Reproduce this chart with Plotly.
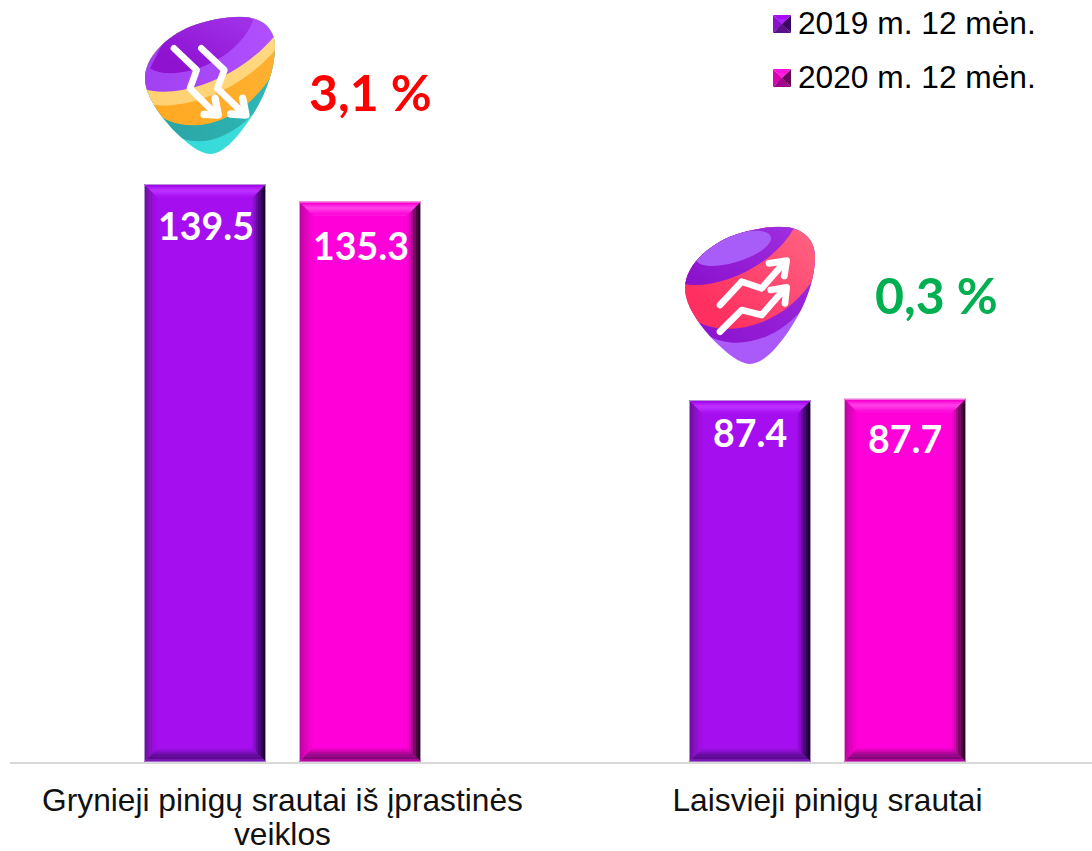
import base64
import plotly.graph_objects as go

categories = ["Grynieji pinigų srautai iš įprastinės veiklos", "Laisvieji pinigų srautai"]
category_first_lines = ["Grynieji pinigų srautai iš įprastinės", "Laisvieji pinigų srautai"]
category_second_line = "veiklos"
series_names = ["2019 m. 12 mėn.", "2020 m. 12 mėn."]
values_2019 = [139.5, 87.4]
values_2020 = [135.3, 87.7]
changes = ["3,1 %", "0,3 %"]

W, H = 1092, 851
ML, MB = 10, 89
PW, PH = W - ML, H - MB
PX_PER_CAT = 545.0
PX_PER_VAL = 4.143
XR = [-(282.5 - ML) / PX_PER_CAT, (W - 282.5) / PX_PER_CAT]
YR = [0, PH / PX_PER_VAL]
SLOT = 155 / PX_PER_CAT
BAR_W = 122 / PX_PER_CAT
DEPTH = 14
RING_T = [0, 1, 3, 5, 8, 10, 12]

SIDES_PURPLE = dict(
    base="#A50EEE",
    top=["#B98FD8", "#A20CEB", "#B21CFA", "#BC2DFF", "#B626FF", "#AE18F6", "#A812F0"],
    right=["#A98CC0", "#1C0030", "#2E0550", "#4A0878", "#6A0AA0", "#840CC4", "#980EDE"],
    bottom=["#A070C8", "#7A14B4", "#5C0A90", "#660C9C", "#7A0EB8", "#8C0ECE", "#9C0EE4"],
    left=["#B090D0", "#6E10A0", "#7C10B4", "#8A10C6", "#960FD6", "#9E0EE2", "#A20EEA"],
)
SIDES_PINK = dict(
    base="#FF00D8",
    top=["#E8A0E0", "#F800D0", "#FF22E0", "#FF3CE6", "#FF2CE2", "#FF14DC", "#FF08DA"],
    right=["#B090B0", "#2A0828", "#4A0840", "#780A64", "#A80A8C", "#D006AE", "#EE02C8"],
    bottom=["#D060C0", "#B0089A", "#86067A", "#98088A", "#B4069A", "#D004B2", "#EC02C8"],
    left=["#D8A0D0", "#C004A4", "#D004B0", "#DE02BC", "#EA02C6", "#F401CE", "#FA00D4"],
)


def bevel(x0, x1, y0, y1, sx, sy, xref, yref, style, depth, rings):
    """Nested mitred faces for a box given in axis units; sx, sy are units per pixel."""
    out = []
    f = lambda v: f"{v:.5f}"
    for i, t in enumerate(rings):
        ax, bx = x0 + t * sx, x1 - t * sx
        ay, by = y0 + t * sy, y1 - t * sy
        ix0, ix1 = x0 + depth * sx, x1 - depth * sx
        iy0, iy1 = y0 + depth * sy, y1 - depth * sy
        faces = {
            "left": [(ax, ay), (ax, by), (ix0, iy1), (ix0, iy0)],
            "right": [(bx, ay), (bx, by), (ix1, iy1), (ix1, iy0)],
            "bottom": [(ax, ay), (bx, ay), (ix1, iy0), (ix0, iy0)],
            "top": [(ax, by), (bx, by), (ix1, iy1), (ix0, iy1)],
        }
        for side, pts in faces.items():
            path = "M " + " L ".join(f"{f(a)} {f(b)}" for a, b in pts) + " Z"
            out.append(dict(type="path", path=path, xref=xref, yref=yref, layer="above",
                            fillcolor=style[side][i], line=dict(width=0)))
    return out


EGG = ("M330 50C400 50 435 90 435 140C435 230 385 335 320 410C290 445 262 462 240 462"
       "C210 462 170 430 130 390C85 340 45 285 45 235C45 170 110 110 180 80C230 60 290 50 330 50Z")


def svg_icon(body, defs):
    return ('<svg xmlns="http://www.w3.org/2000/svg" viewBox="0 0 960 780" width="960" height="780">'
            f'<defs><clipPath id="c"><path d="{EGG}"/></clipPath>{defs}</defs>'
            f'<g clip-path="url(#c)">{body}</g></svg>')


def uri(svg):
    return "data:image/svg+xml;base64," + base64.b64encode(svg.encode()).decode()


def lg(i, a, b, x1=0, y1=0, x2=1, y2=0):
    return (f'<linearGradient id="{i}" x1="{x1}" y1="{y1}" x2="{x2}" y2="{y2}">'
            f'<stop offset="0" stop-color="{a}"/><stop offset="1" stop-color="{b}"/></linearGradient>')


defs1 = (lg("p", "#A040F0", "#B050FF") + lg("d", "#8E12D0", "#A030E8", 0.2, 0.8, 0.8, 0.1)
         + lg("o1", "#FFD070", "#FFD880") + lg("o2", "#FFA820", "#FFB030", 0, 0.5, 1, 0.5)
         + lg("t1", "#2AA0A0", "#30B8B8") + lg("t2", "#30D8D8", "#50E4E0"))
body1 = (
    '<rect width="960" height="780" fill="url(#t2)"/>'
    '<path d="M130 400C190 450 330 430 430 260L440 40H40V300Z" fill="url(#t1)"/>'
    '<path d="M60 320C120 400 310 420 440 205V40H40Z" fill="url(#o2)"/>'
    '<path d="M50 310C130 335 320 290 440 145V40H40Z" fill="url(#o1)"/>'
    '<path d="M45 268C130 295 320 250 440 100V40H40Z" fill="url(#p)"/>'
    '<path d="M60 205C130 250 320 190 370 60L330 30H150Z" fill="url(#d)"/>'
    '<g fill="none" stroke="#fff" stroke-linecap="round" stroke-linejoin="round">'
    '<path stroke-width="20" d="M132 145L200 210L180 265L255 340"/>'
    '<path stroke-width="20" d="M214 145L283 210L262 265L340 340"/>'
    '<path stroke-width="22" d="M255 295L265 345L222 343"/>'
    '<path stroke-width="22" d="M338 295L348 345L302 342"/></g>'
)
defs2 = (lg("p", "#B060FF", "#A050F0", 0, 0, 1, 1) + lg("d", "#8A10CC", "#A030E0", 0, 1, 1, 0)
         + lg("r", "#FF3060", "#FF6080", 0.2, 0.8, 1, 0.2))
body2 = (
    '<rect width="960" height="780" fill="url(#p)"/>'
    '<path d="M60 320C120 440 340 430 440 230V40H40Z" fill="url(#d)"/>'
    '<path d="M40 300C120 400 340 370 440 190V40H40Z" fill="url(#r)"/>'
    '<path d="M40 222C130 240 300 180 372 55L330 30H150L40 150Z" fill="url(#d)"/>'
    '<ellipse cx="190" cy="115" rx="118" ry="42" transform="rotate(-17 190 115)" fill="#A85CF8"/>'
    '<g fill="none" stroke="#fff" stroke-width="20" stroke-linecap="round" stroke-linejoin="round">'
    '<path d="M150 285L215 215L275 235L345 155M297 160L350 152L343 198"/>'
    '<path d="M150 365L215 300L275 315L345 235M302 240L350 232L345 280"/></g>'
)

px = lambda v: (v - ML) / PW
py = lambda v: (H - MB - v) / PH

fig = go.Figure()
colors = ["#A50EEE", "#FF00D8"]
for name, vals, c in zip(series_names, [values_2019, values_2020], colors):
    fig.add_bar(x=categories, y=vals, name=name, marker=dict(color=c, line=dict(width=0)),
                showlegend=False, hoverinfo="x+y+name")

shapes = []
ux, uy = 1 / PX_PER_CAT, 1 / PX_PER_VAL
for k, (vals, st) in enumerate(zip([values_2019, values_2020], [SIDES_PURPLE, SIDES_PINK])):
    for i, v in enumerate(vals):
        c = i + (k - 0.5) * SLOT
        shapes += bevel(c - BAR_W / 2, c + BAR_W / 2, 0, v, ux, uy, "x", "y", st, DEPTH, RING_T)

# legend swatches
LEG_STYLE = [
    dict(base="#A50EEE", top=["#A50EEE", "#B020FA"], right=["#3A0860", "#3A0860"], bottom=["#5A1088", "#5A1088"], left=["#8A12C8", "#8A12C8"]),
    dict(base="#FF00D8", top=["#FF10DC", "#FF20E0"], right=["#6A0858", "#6A0858"], bottom=["#A0088C", "#A0088C"], left=["#D804B4", "#D804B4"]),
]
LEG_BOX = [(773, 15), (773, 69)]
LEG_SIZE = 18
for (lx, ly), st in zip(LEG_BOX, LEG_STYLE):
    shapes += bevel(px(lx), px(lx + LEG_SIZE), py(ly + LEG_SIZE), py(ly), 1 / PW, 1 / PH, "paper", "paper", st, LEG_SIZE / 2, [0, 4])

annotations = []
LABEL_SHIFT = [[(1, -41), (0, -33)], [(1, -44), (0, -40)]]
for k, vals in enumerate([values_2019, values_2020]):
    for i, v in enumerate(vals):
        dx, dy = LABEL_SHIFT[k][i]
        annotations.append(dict(x=i + (k - 0.5) * SLOT, y=v, xref="x", yref="y", text=f"<b>{v}</b>", showarrow=False,
                                xshift=dx, yshift=dy, xanchor="center", yanchor="middle",
                                font=dict(family="Lato", size=37.5, color="white")))
for (tx, ty), t, c in zip([(370, 92), (936, 295)], changes, ["#FF0000", "#00B050"]):
    annotations.append(dict(x=px(tx), y=py(ty), xref="paper", yref="paper", text=f"<b>{t}</b>", showarrow=False,
                            xanchor="center", yanchor="middle", font=dict(family="Lato", size=50, color=c)))
for (lx, ly), t in zip(LEG_BOX, series_names):
    annotations.append(dict(x=px(795.5), y=py(ly + LEG_SIZE / 2 - 0.5), xref="paper", yref="paper", text=t, showarrow=False,
                            xanchor="left", yanchor="middle", font=dict(family="Liberation Sans", size=31.7, color="#000")))
annotations.append(dict(x=categories[0], y=py(834), xref="x", yref="paper", text=category_second_line, showarrow=False,
                        height=30, xanchor="center", yanchor="middle",
                        font=dict(family="Liberation Sans", size=31.7, color="#111")))

images = []
for (ox, oy), b, d in zip([(130, 0), (670, 210)], [body1, body2], [defs1, defs2]):
    images.append(dict(source=uri(svg_icon(b, d)), xref="paper", yref="paper", x=px(ox), y=py(oy),
                       sizex=320 / PW, sizey=260 / PH, xanchor="left", yanchor="top", sizing="stretch", layer="above"))

fig.update_layout(
    width=W, height=H, margin=dict(l=ML, r=0, t=0, b=MB, pad=0), autosize=False,
    paper_bgcolor="white", plot_bgcolor="white", barmode="group",
    bargap=1 - 2 * SLOT, bargroupgap=33 / 155,
    shapes=shapes, annotations=annotations, images=images,
    xaxis=dict(type="category", range=XR, showgrid=False, showline=True, linecolor="#D9D9D9", linewidth=2,
               tickmode="array", tickvals=categories, ticktext=category_first_lines,
               ticks="outside", ticklen=9, tickcolor="rgba(0,0,0,0)",
               tickfont=dict(family="Liberation Sans", size=31.7, color="#111"), fixedrange=True),
    yaxis=dict(range=YR, visible=False, fixedrange=True),
)
fig.write_html("out.html", config=dict(displayModeBar=False),
               post_script="document.body.style.margin='0';document.documentElement.style.overflow='hidden';")
